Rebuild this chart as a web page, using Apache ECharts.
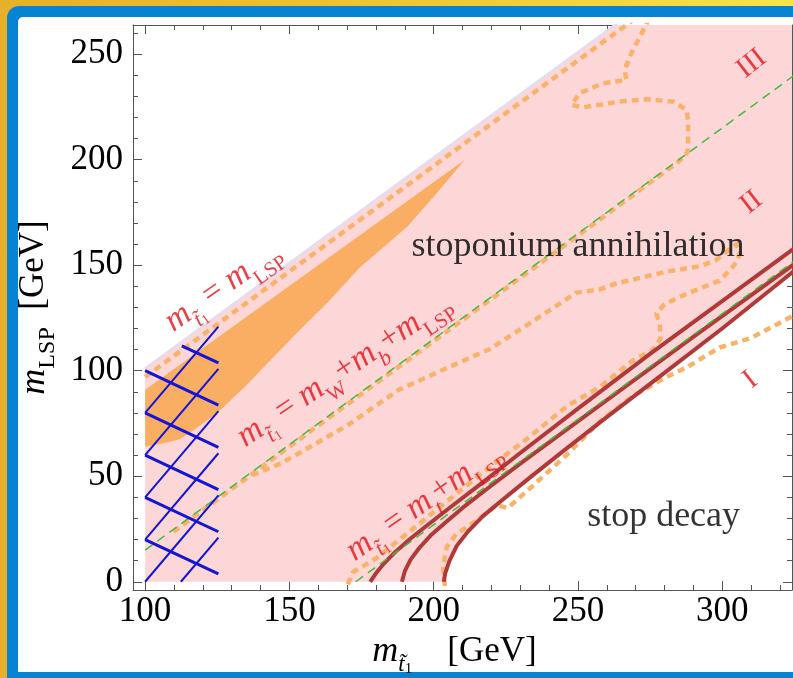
<!DOCTYPE html>
<html>
<head>
<meta charset="utf-8">
<script src="https://cdn.jsdelivr.net/npm/echarts@6/dist/echarts.min.js"></script>
<style>
html,body{margin:0;padding:0;width:793px;height:678px;overflow:hidden;background:#fff;}
#frame{position:absolute;left:0;top:0;width:793px;height:678px;background:linear-gradient(90deg,#e7b02a 0%,#efc535 50%,#f8e34b 100%);}
#blue{position:absolute;left:7px;top:6px;width:800px;height:690px;background:#0784d1;border-top-left-radius:12px;}
#white{position:absolute;left:18px;top:17px;width:800px;height:655px;background:#fff;border-top-left-radius:5px;}
#chart{position:absolute;left:0;top:0;width:793px;height:678px;}
</style>
</head>
<body>
<div id="frame"></div><div id="blue"></div><div id="white"></div>
<div id="chart"></div>
<script>
// ---------- data (GeV) ----------
const xTickLabels = [100, 150, 200, 250, 300];
const yTickLabels = [0, 50, 100, 150, 200, 250];

// kinematic lines
const lineStopEqLSP = [[100, 101], [330, 331]];          // m_stop = m_LSP (upper edge)
const lineWbLSP = [[100, 15], [330, 245]];              // m_stop = m_W + m_b + m_LSP
const lineTopLSP = [[173, 0], [330, 157]];              // m_stop = m_t + m_LSP

// dark red curves
const curveA = [[178,0],[180,4],[183,9],[187,14.5],[192,20.5],[198,27],[205,34.5],[215,45],[230,61],[250,82],[275,108],[300,133],[326,159]];
const curveB = [[189,0],[190,5],[192,10.5],[195,16],[199,22],[204,28],[210,35],[218,43.5],[230,56],[245,71],[265,91],[290,116],[326,151.5]];
const curveC = [[203.5,0],[204,4],[205.5,10],[208,17],[212,24],[217,31],[224,39],[233,49],[245,62],[260,78],[280,99],[300,120],[326,148.5]];

// pink region (stoponium annihilation)
const pinkRegion = [[100,0]].concat(curveC, [[330,152.5],[330,331],[100,101]]);

// orange filled wedge
const orangeWedge = [[100,64],[106,65.5],[112,67.5],[117,72],[125,80],[135,93],[144.5,106.5],[153,118.5],[163,132],[174.5,149],[183,159],[191,168.5],[201,184],[210.8,200],[100,91]];

// orange dotted contours
const contourTop = [[100,97],[270,267]];
const contourII = [[109.8,23.7],[150,64],[200,114],[250,164],[285.3,199.5],[288,203.5],[288.2,210],[288.2,218.8],[287.6,223.6],[283,227.5],[273.7,228.6],[264.5,227.5],[251.8,224.8],[247.8,225.9],[250.6,231.5],[258.7,236.2],[266.8,237.8],[266.2,242.5],[268.5,250.4],[273.7,264],[274.5,267]];
const contourLoop = [[137,50.5],[147,56],[170,74],[188,91],[205,101.5],[219.5,110.3],[235,124],[249.5,137],[257.6,138.5],[263.4,141.4],[280.6,146.9],[292.2,149.5],[298,152.5],[302,157],[305,160],[306.3,157],[305.5,153],[303.7,149.2],[299.1,142.7],[287.6,136.4],[280,131.5],[277.2,127],[278.4,122],[278.6,115],[276,110],[269.1,104.9],[257.6,92.3],[246,83],[232.2,67.5],[220,55],[200,33],[180,11],[172,4.5],[170,-2]];
const contourI = [[203.9,-2],[203.3,7],[204.5,16.4],[207.9,22.7],[214.9,29],[221.8,36.3],[225.8,35],[234.5,45.7],[246,60],[257.6,76],[269,88],[280.6,97],[287.6,101.5],[299.1,111],[310,115.5],[328,128.5]];

// blue cross hatch (excluded region)
const hatchThick = [[[100,20],[125.4,3.7]],[[100,40],[125.4,23.7]],[[100,60],[125.4,43.7]],[[100,80],[125.4,63.7]],[[100,100],[125.4,83.7]],[[112.7,111.8],[125.4,103.7]]];
const hatchThin = [[[112.4,0],[125.4,20.9]],[[100,0],[125.4,40.9]],[[100,20],[125.4,60.9]],[[100,40],[125.4,80.9]],[[100,60],[125.4,100.9]],[[100,80],[125.4,120.9]]];

// annotations: [text, anchor (GeV), rotation, kind]
const annotations = [
  ['{m|m}{s|t\u0303}{ss|1}{o| = }{m|m}{r|LSP}', [127.7, 138.3], 35, 'red'],
  ['{m|m}{s|t\u0303}{ss|1}{o| = }{m|m}{r|W}{o|+}{m|m}{s|b}{o|+}{m|m}{r|LSP}', [169.8, 98.8], 34, 'red'],
  ['{m|m}{s|t\u0303}{ss|1}{o| = }{m|m}{s|t}{o|+}{m|m}{r|LSP}', [197.6, 36.4], 35, 'red'],
  ['III', [310.2, 245.4], 38, 'roman'],
  ['II', [310.1, 179.7], 38, 'roman'],
  ['I', [309.8, 95.6], 38, 'roman'],
  ['stoponium annihilation', [250.0, 158.6], 0, 'black'],
  ['stop decay', [279.7, 30.7], 0, 'black']
];

const xExtent = [95.8, 324.2];
const yExtent = [-3.9, 263.8];

// ---------- styles ----------
const SERIF = 'Liberation Serif';
const RED = '#e5121b';
const FRAME = '#555555';
const PINK = '#fdd6d7';
const ORANGE_FILL = '#f9ae63';
const ORANGE_DOT = '#f8b26a';
const DARKRED = '#b03a3a';
const GREEN = '#43b943';
const BLUE = '#1414d6';

const redRich = {
  m: {fontFamily: SERIF, fontStyle: 'italic', fontSize: 34, lineHeight: 42, verticalAlign: 'top', color: RED},
  o: {fontFamily: SERIF, fontSize: 33, lineHeight: 42, verticalAlign: 'top', color: RED},
  s: {fontFamily: SERIF, fontStyle: 'italic', fontSize: 22, lineHeight: 23, verticalAlign: 'bottom', color: RED},
  ss: {fontFamily: SERIF, fontSize: 14, lineHeight: 15, verticalAlign: 'bottom', color: RED},
  r: {fontFamily: SERIF, fontSize: 21, lineHeight: 23, verticalAlign: 'bottom', color: RED}
};
const nameRich = {
  m: {fontFamily: SERIF, fontStyle: 'italic', fontSize: 36, lineHeight: 43, verticalAlign: 'top', color: '#000'},
  n: {fontFamily: SERIF, fontSize: 35, lineHeight: 43, verticalAlign: 'top', color: '#000'},
  s: {fontFamily: SERIF, fontStyle: 'italic', fontSize: 23, lineHeight: 24, verticalAlign: 'bottom', color: '#000'},
  ss: {fontFamily: SERIF, fontSize: 15, lineHeight: 15, verticalAlign: 'bottom', color: '#000'},
  r: {fontFamily: SERIF, fontSize: 24, lineHeight: 25, verticalAlign: 'bottom', color: '#000'}
};

function frameAxis(extent, position, labels, showLabel, extra) {
  return Object.assign({
    type: 'value', min: extent[0], max: extent[1], splitNumber: 5, position: position,
    axisLine: {show: true, onZero: false, lineStyle: {color: FRAME, width: 1}},
    axisTick: {show: true, inside: true, length: 9, lineStyle: {color: FRAME, width: 1}},
    minorTick: {show: true, splitNumber: 5, length: 5, lineStyle: {color: FRAME, width: 1}},
    splitLine: {show: false}, minorSplitLine: {show: false},
    axisLabel: {
      show: showLabel, fontFamily: SERIF, fontSize: 35, color: '#000', margin: position === 'bottom' ? 4 : 10,
      formatter: v => (labels.indexOf(Math.round(v * 1000) / 1000) >= 0 ? String(Math.round(v)) : '')
    }
  }, extra || {});
}

function polySeries(points, color, z) {
  return {
    type: 'custom', coordinateSystem: 'cartesian2d', clip: true, silent: true, z: z,
    data: [points[0]],
    renderItem: (params, api) => ({
      type: 'polygon',
      shape: {points: points.map(p => api.coord(p))},
      style: {fill: color, stroke: null}
    })
  };
}
function lineSeries(data, color, width, type, z) {
  return {
    type: 'line', data: data, showSymbol: false, symbol: 'none', silent: true, z: z, clip: true,
    lineStyle: {color: color, width: width, type: type, cap: 'butt', join: 'round'}
  };
}
function hatchSeries(segs, width) {
  return {
    type: 'lines', coordinateSystem: 'cartesian2d', silent: true, z: 8,
    data: segs.map(s => ({coords: s})),
    lineStyle: {color: BLUE, width: width, opacity: 1, curveness: 0}
  };
}

const labelData = annotations.map(a => {
  const kind = a[3];
  let lab;
  if (kind === 'red') {
    lab = {show: true, position: 'inside', formatter: a[0], rotate: a[2], rich: redRich, align: 'center', verticalAlign: 'middle'};
  } else if (kind === 'roman') {
    lab = {show: true, position: 'inside', formatter: a[0], rotate: a[2], fontFamily: SERIF, fontSize: 29, color: RED, align: 'center', verticalAlign: 'middle'};
  } else {
    lab = {show: true, position: 'inside', formatter: a[0], rotate: a[2], fontFamily: SERIF, fontSize: 36, color: '#000', align: 'center', verticalAlign: 'middle'};
  }
  return {value: a[1], label: lab};
});

const chart = echarts.init(document.getElementById('chart'), null, {renderer: 'canvas'});
chart.setOption({
  animation: false,
  backgroundColor: 'transparent',
  grid: {left: 133, right: 1, top: 25, bottom: 88, containLabel: false, outerBoundsMode: 'none'},
  xAxis: [
    frameAxis(xExtent, 'bottom', xTickLabels, true, {
      name: '{m|m}{s|t\u0303}{ss|1}{n|    [GeV]}', nameLocation: 'middle', nameGap: 40,
      nameTextStyle: {rich: nameRich, padding: [0, 16, 0, 0]}
    }),
    frameAxis(xExtent, 'top', xTickLabels, false)
  ],
  yAxis: [
    frameAxis(yExtent, 'left', yTickLabels, true, {
      name: '{m|m}{r|LSP}{n|  [GeV]}', nameLocation: 'middle', nameGap: 62,
      nameTextStyle: {rich: nameRich}
    }),
    frameAxis(yExtent, 'right', yTickLabels, false)
  ],
  series: [
    polySeries(pinkRegion, PINK, 1),
    polySeries(orangeWedge, ORANGE_FILL, 2),
    lineSeries(lineStopEqLSP, '#e4dcef', 2.5, 'solid', 3),
    lineSeries(contourTop, ORANGE_DOT, 4.5, [7, 5], 4),
    lineSeries(contourII, ORANGE_DOT, 4.5, [7, 5], 4),
    lineSeries(contourLoop, ORANGE_DOT, 4.5, [7, 5], 4),
    lineSeries(contourI, ORANGE_DOT, 4.5, [7, 5], 4),
    lineSeries(curveA, DARKRED, 4, 'solid', 5),
    lineSeries(curveB, DARKRED, 4, 'solid', 5),
    lineSeries(curveC, DARKRED, 4, 'solid', 5),
    lineSeries(lineWbLSP, GREEN, 1.5, [9, 6], 6),
    lineSeries(lineTopLSP, GREEN, 1.5, [9, 6], 6),
    hatchSeries(hatchThick, 3),
    hatchSeries(hatchThin, 2),
    {
      type: 'scatter', symbolSize: 0, silent: true, z: 20, data: labelData,
      emphasis: {disabled: true}
    }
  ]
});
</script>
</body>
</html>
